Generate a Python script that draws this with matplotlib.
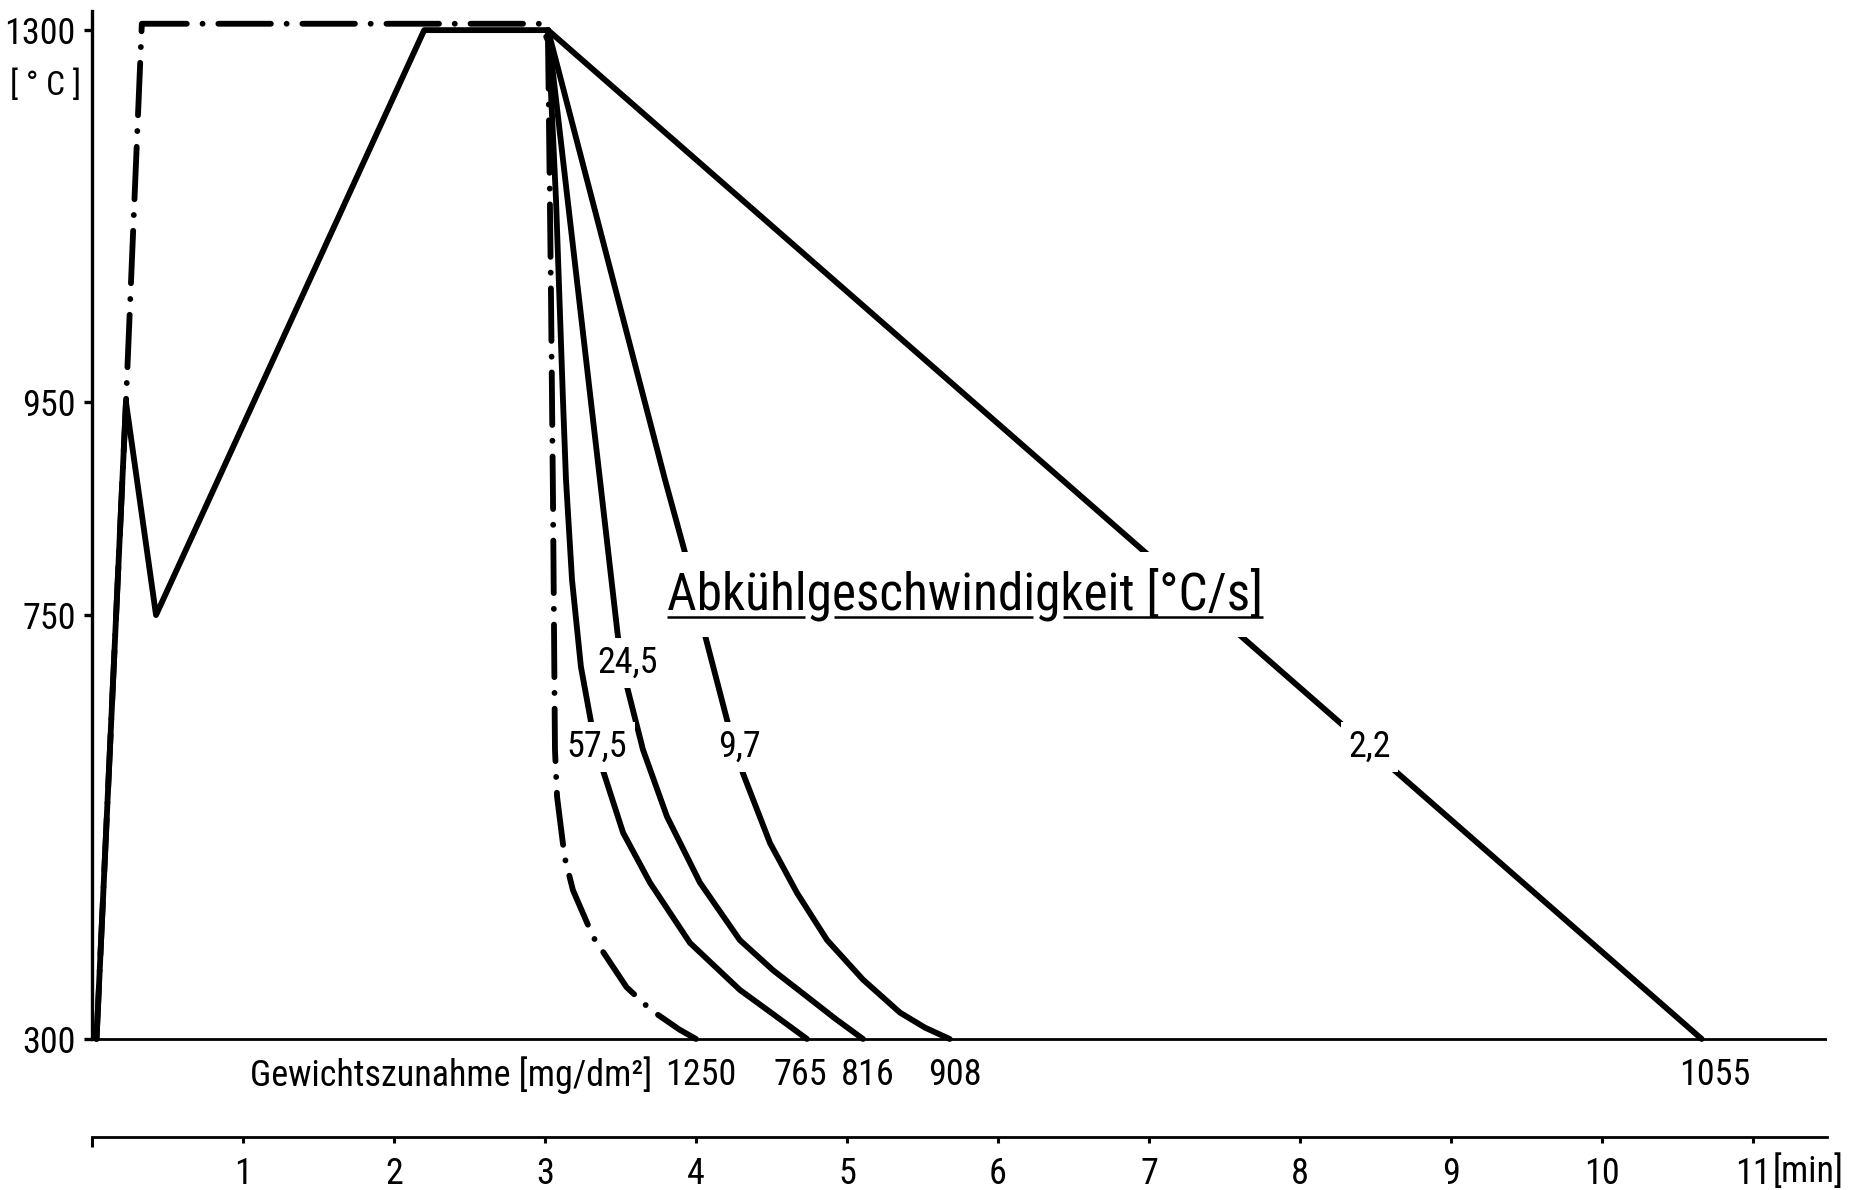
import numpy as np
import matplotlib
matplotlib.use('Agg')
from matplotlib import pyplot as plt
from matplotlib import font_manager as fm
from matplotlib import transforms

# narrow engineering-style font if there is one
available = {f.name for f in fm.fontManager.ttflist}
for name in ['Liberation Sans Narrow', 'Roboto Condensed', 'Liberation Sans']:
    if name in available:
        plt.rcParams['font.family'] = [name, 'DejaVu Sans']
        break

# time [min] / temperature [°C]
heat_t = [0.03, 0.225, 0.424, 2.2, 3.02]
heat_T = [300, 950, 750, 1300, 1300]

quench_t = [0.03, 0.225, 0.33, 2.97, 3.02, 3.04, 3.053, 3.066, 3.08, 3.13, 3.185, 3.32, 3.54, 3.70, 3.89, 4.0]
quench_T = [300, 950, 1306, 1306, 1290, 1046, 858, 607, 557, 493, 458, 408, 355, 331, 310, 300]

cool_575_t = [3.02, 3.073, 3.119, 3.139, 3.179, 3.238, 3.311, 3.384, 3.517, 3.695, 3.96, 4.291, 4.497, 4.735]
cool_575_T = [1300, 1140, 952, 877, 783, 695, 631, 585, 519, 466, 402, 352, 328, 300]

cool_245_t = [3.02, 3.364, 3.483, 3.543, 3.649, 3.808, 4.026, 4.29, 4.51, 4.735, 4.927, 5.106]
cool_245_T = [1300, 877, 727, 674, 607, 536, 466, 405, 373, 345, 321, 300]

cool_97_t = [3.02, 3.795, 3.94, 4.046, 4.205, 4.311, 4.49, 4.669, 4.868, 5.106, 5.351, 5.517, 5.68]
cool_97_T = [1300, 877, 802, 737, 639, 582, 508, 455, 405, 363, 328, 312, 300]

cool_22_t = [3.02, 10.66]
cool_22_T = [1300, 300]

rate_labels = ['57,5', '24,5', '9,7', '2,2']
gain_labels = ['1250', '765', '816', '908', '1055']
y_ticks = [300, 750, 950, 1300]
x_ticks = list(range(12))

# label placement (min, °C)
rate_pos = [(3.345, 610), (3.55, 699), (4.29, 610), (8.46, 610)]
gain_pos = [4.03, 4.69, 5.14, 5.715, 10.75]

# the drawing is not to scale in temperature -> piecewise linear axis
T_knots = np.array([0, 300, 750, 950, 1300, 2000])
d_knots = np.array([-282.7, 0, 424, 637, 1009, 1753])


def fwd(v):
    return np.interp(v, T_knots, d_knots)


def inv(v):
    return np.interp(v, d_knots, T_knots)


W, H = 1858, 1190
fig = plt.figure(figsize=(W / 100, H / 100), dpi=100)
ax = fig.add_axes([92 / W, (H - 1048.4) / H, 1735 / W, (1048.4 - 11) / H])
ax.set_yscale('function', functions=(fwd, inv))
ax.set_xlim(0, 1735 / 151)
ax.set_ylim(290, 1318)

for s in ['top', 'right']:
    ax.spines[s].set_visible(False)
ax.spines['left'].set_bounds(300, 1318)
ax.spines['left'].set_linewidth(2.4)
ax.spines['bottom'].set_position(('outward', 63.8))
ax.spines['bottom'].set_linewidth(2.0)

ax.set_yticks(y_ticks)
ax.set_yticklabels([str(v) for v in y_ticks])
ax.set_xticks(x_ticks)
ax.set_xticklabels([''] + [str(v) for v in x_ticks[1:]])
ax.tick_params(axis='y', direction='out', length=5.8, width=2.4, pad=6, labelsize=26)
ax.tick_params(axis='x', direction='out', length=4.5, width=2.2, pad=9, labelsize=26)
ax.xaxis.get_major_ticks()[0].tick1line.set_markersize(7.5)

# baseline at 300 °C
ax.axhline(300, color='k', lw=2.0, zorder=1)

kw = dict(color='k', lw=4.2, solid_joinstyle='round', solid_capstyle='round', clip_on=False)
ax.plot(quench_t, quench_T, linestyle=(0, (9, 2.7, 0.01, 2.7)), dash_capstyle='round',
        color='k', lw=4.2, clip_on=False)
ax.plot(heat_t, heat_T, **kw)
ax.plot(cool_575_t, cool_575_T, **kw)
ax.plot(cool_245_t, cool_245_T, **kw)
ax.plot(cool_97_t, cool_97_T, **kw)
ax.plot(cool_22_t, cool_22_T, **kw)

white = dict(boxstyle='square,pad=0.2', fc='white', ec='none')
for lab, (x, y) in zip(rate_labels, rate_pos):
    ax.text(x, y, lab, fontsize=26, ha='center', va='center', bbox=white, zorder=4)

ax.text(2.38, 262, 'Gewichtszunahme [mg/dm²]', fontsize=26, ha='center', va='center')
for lab, x in zip(gain_labels, gain_pos):
    ax.text(x, 262, lab, fontsize=26, ha='center', va='center')

ax.text(-0.006, 1248, '[ ° C ]', fontsize=24, ha='right', va='center',
        transform=transforms.blended_transform_factory(ax.transAxes, ax.transData))
fig.text(1773 / W, 1 - 1172 / H, '[min]', fontsize=26, ha='left', va='center')

# title with underline broken at the g's
title = 'Abkühlgeschwindigkeit [°C/s]'
tx, ty = 3.81, 755
tt = ax.text(tx, ty, title, fontsize=37, ha='left', va='baseline', zorder=4,
             bbox=dict(boxstyle='square,pad=0.3', fc='white', ec='none'))
fig.canvas.draw()
r = fig.canvas.get_renderer()
fp = tt.get_fontproperties()
x0 = ax.transData.transform((tx, ty))[0]
y_ul = ax.transData.transform((tx, 748))[1]


def w(s):
    return r.get_text_width_height_descent(s, fp, ismath=False)[0]


segs = []
start = x0
for i, ch in enumerate(title):
    if ch == 'g':
        segs.append((start, x0 + w(title[:i]) - 2))
        start = x0 + w(title[:i + 1]) + 2
segs.append((start, x0 + w(title)))
for a, b in segs:
    ax.plot([a / W, b / W], [y_ul / H] * 2, transform=fig.transFigure, color='k', lw=1.8,
            clip_on=False, zorder=5, solid_capstyle='butt')

fig.savefig('out.png', dpi=100, facecolor='white')
